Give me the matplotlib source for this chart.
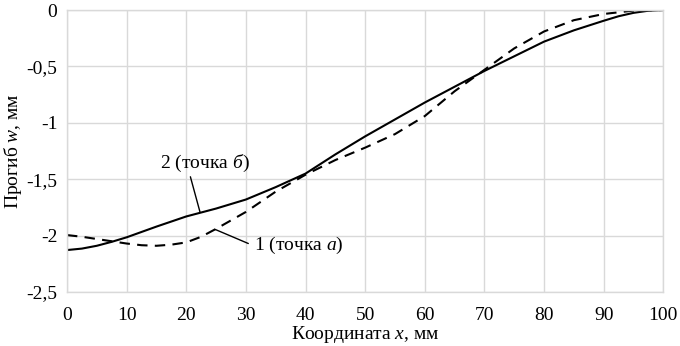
import matplotlib
matplotlib.use("Agg")
import matplotlib.pyplot as plt

plt.rcParams["font.family"] = ["Liberation Serif", "DejaVu Serif"]
plt.rcParams["mathtext.fontset"] = "custom"
plt.rcParams["mathtext.rm"] = "Liberation Serif"
plt.rcParams["mathtext.it"] = "Liberation Serif:italic"

# coordinate x, mm
x_solid = [0, 2.5, 5, 7.5, 10, 15, 20, 25, 30, 35, 40, 45, 50, 55, 60, 65, 70, 75, 80,
           85, 90, 92.5, 95, 97.5, 100]
# curve 2 (point b)
w_solid = [-2.128, -2.115, -2.09, -2.055, -2.015, -1.92, -1.83, -1.76, -1.68, -1.57,
           -1.45, -1.28, -1.12, -0.97, -0.82, -0.68, -0.54, -0.41, -0.28, -0.18, -0.095,
           -0.055, -0.025, -0.006, 0.0]
x_dash = [0, 2.5, 5, 7.5, 10, 12.5, 15, 17.5, 20, 22.5, 25, 30, 35, 40, 45, 50, 55, 60,
          65, 70, 75, 80, 85, 90, 95, 100]
# curve 1 (point a)
w_dash = [-1.995, -2.01, -2.03, -2.05, -2.07, -2.085, -2.09, -2.08, -2.06, -2.01, -1.94,
          -1.79, -1.61, -1.46, -1.33, -1.22, -1.10, -0.94, -0.72, -0.53, -0.34, -0.19,
          -0.09, -0.035, -0.005, 0.0]

xticks = [0, 10, 20, 30, 40, 50, 60, 70, 80, 90, 100]
yticks = [0, -0.5, -1, -1.5, -2, -2.5]
ylabels = ["0", "-0,5", "-1", "-1,5", "-2", "-2,5"]

fig = plt.figure(figsize=(6.8, 3.46), dpi=100)
ax = fig.add_axes([0.0985, 0.156, 0.877, 0.815])

ax.plot(x_dash, w_dash, color="black", lw=1.5, ls=(0, (5, 3.5)))
ax.plot(x_solid, w_solid, color="black", lw=1.5)

ax.set_xlim(0, 100)
ax.set_ylim(-2.5, 0)
ax.set_xticks(xticks)
ax.set_yticks(yticks)
ax.set_yticklabels(ylabels)
ax.tick_params(length=0, labelsize=14)
ax.tick_params(axis="x", pad=11)
ax.tick_params(axis="y", pad=7)
ax.grid(color="#d9d9d9", lw=1)
ax.set_axisbelow(True)
for s in ax.spines.values():
    s.set_color("#d9d9d9")
    s.set_linewidth(1)

ax.set_xlabel(r"Координата $\mathit{x}$, мм", fontsize=14, labelpad=0)
ax.set_ylabel(r"Прогиб $\mathit{w}$, мм", fontsize=14, va="center")
ax.yaxis.set_label_coords(-0.09, 0.5)

ax.annotate(r"2 (точка $\mathit{б}$)", xy=(22.3, -1.79), xytext=(15.6, -1.36),
            fontsize=14, va="center", ha="left",
            arrowprops=dict(arrowstyle="-", color="black", lw=1,
                            shrinkA=0, shrinkB=0, relpos=(0.33, 0)))
ax.annotate(r"1 (точка $\mathit{а}$)", xy=(24.8, -1.944), xytext=(31.3, -2.09),
            fontsize=14, va="center", ha="left",
            arrowprops=dict(arrowstyle="-", color="black", lw=1,
                            shrinkA=2, shrinkB=0, relpos=(0, 0.5)))

fig.savefig("out.png", dpi=100)
